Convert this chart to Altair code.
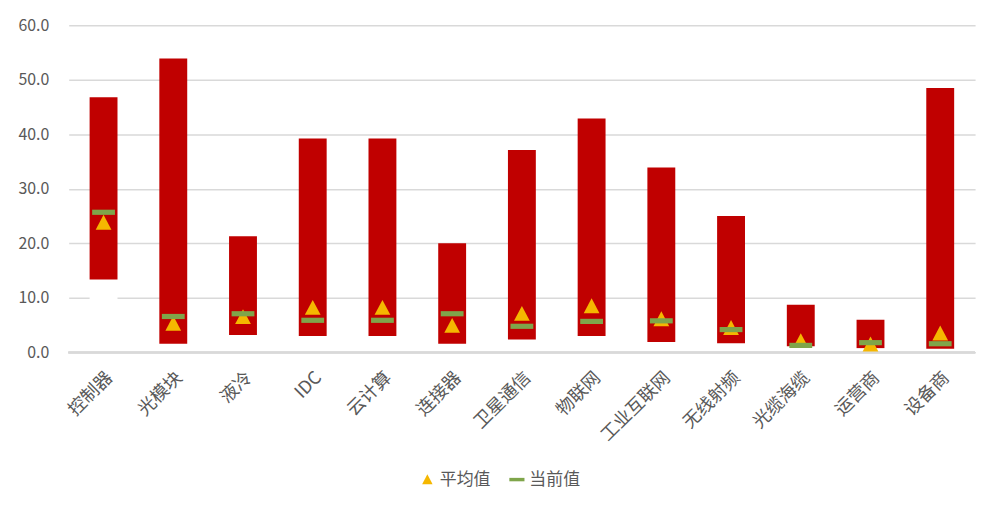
import altair as alt
import pandas as pd

categories = ["控制器", "光模块", "液冷", "IDC", "云计算", "连接器", "卫星通信",
              "物联网", "工业互联网", "无线射频", "光缆海缆", "运营商", "设备商"]
low = [13.4, 1.6, 3.2, 3.0, 3.0, 1.6, 2.4, 3.0, 1.9, 1.7, 1.15, 0.8, 0.7]
high = [46.8, 53.9, 21.3, 39.2, 39.2, 20.0, 37.1, 42.9, 33.9, 25.0, 8.75, 6.0, 48.5]
average = [23.8, 5.3, 6.5, 8.2, 8.2, 4.9, 7.1, 8.5, 6.1, 4.5, 2.1, 1.5, 3.5]
current = [25.7, 6.6, 7.1, 5.9, 5.9, 7.1, 4.8, 5.7, 5.8, 4.2, 1.3, 1.8, 1.6]
series_names = ["平均值", "当前值"]
y_ticks = [0, 10, 20, 30, 40, 50, 60]

FONT = "Noto Sans CJK SC"
GRAY = "#595959"
GRID = "#D9D9D9"

bars = pd.DataFrame({"cat": categories, "low": low, "high": high, "zero": [0] * len(categories)})
pts = pd.DataFrame(
    [{"cat": c, "series": series_names[0], "v": a} for c, a in zip(categories, average)]
    + [{"cat": c, "series": series_names[1], "v": v} for c, v in zip(categories, current)]
)
pts["order"] = [0] * len(categories) + [1] * len(categories)

xenc = alt.X("cat:N", sort=categories, title=None,
             scale=alt.Scale(paddingInner=0.6, paddingOuter=0.3),
             axis=alt.Axis(labelAngle=-45, labelFontSize=18, labelColor=GRAY, labelFont=FONT,
                           ticks=False, domain=False, labelPadding=16, grid=False))
yscale = alt.Scale(domain=[0, 60], nice=False)

# white base segment (hides gridlines below each floating bar, as in the original)
base_white = alt.Chart(bars).mark_bar(color="white").encode(
    x=xenc,
    y=alt.Y("zero:Q", scale=yscale, title=None,
            axis=alt.Axis(values=y_ticks, format=".1f", labelFontSize=16, labelColor=GRAY,
                          labelFont=FONT, ticks=False, domain=False, labelPadding=20,
                          gridColor=GRID, gridWidth=1.5)),
    y2="low:Q",
)

zero_rule = alt.Chart(bars).mark_rule(color=GRID, strokeWidth=1.5).encode(
    y=alt.datum(0)
)

red_bars = alt.Chart(bars).mark_bar(color="#C00000").encode(
    x=alt.X("cat:N", sort=categories),
    y=alt.Y("low:Q", scale=yscale),
    y2="high:Q",
)

tri_path = "M0,-1L1,0.9L-1,0.9Z"
dash_path = "M-1.45,-0.33H1.45V0.33H-1.45Z"

leg = alt.Legend(title=None, orient="none", direction="horizontal",
                 legendX=352, legendY=448, labelFontSize=17,
                 labelColor=GRAY, labelFont=FONT, symbolSize=110,
                 columnPadding=18, labelOffset=4, symbolStrokeWidth=0)

points = alt.Chart(pts).mark_point(filled=True, opacity=1, size=250, strokeWidth=0).encode(
    x=alt.X("cat:N", sort=categories),
    y=alt.Y("v:Q", scale=yscale),
    color=alt.Color("series:N", sort=series_names,
                    scale=alt.Scale(domain=series_names, range=["#F5B700", "#7FA54A"]),
                    legend=leg),
    shape=alt.Shape("series:N", sort=series_names,
                    scale=alt.Scale(domain=series_names, range=[tri_path, dash_path]),
                    legend=leg),
    order=alt.Order("order:Q"),
)

chart = (
    alt.layer(base_white, zero_rule, red_bars, points)
    .properties(
        width=911, height=329,
        autosize=alt.AutoSizeParams(type="none"),
        padding={"left": 61, "top": 16, "right": 16, "bottom": 140},
    )
    .configure(font=FONT)
    .configure_view(strokeWidth=0, stroke="transparent")
    .configure_axisX(grid=False, domain=False, ticks=False)
    .configure_axisY(domain=False, ticks=False)
)

chart.save("out.html", embed_options={"renderer": "svg", "actions": False})
